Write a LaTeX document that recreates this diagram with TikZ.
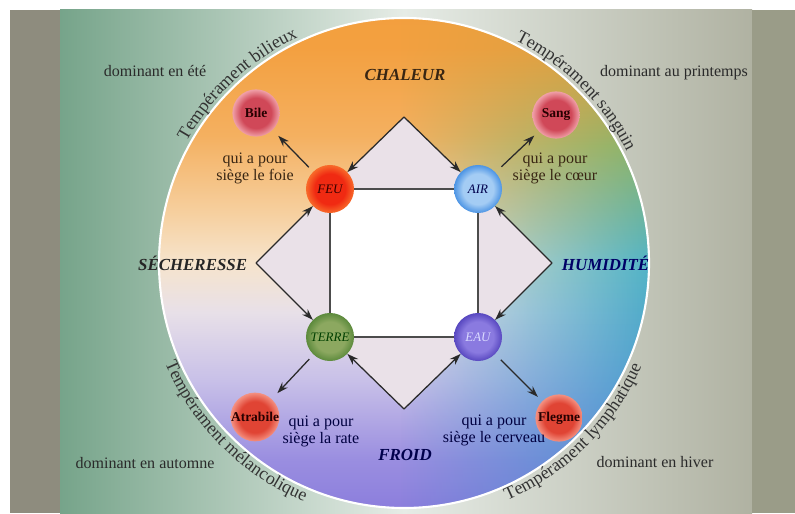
\documentclass[tikz,border=0pt]{standalone}
\usepackage{fontspec}
\setmainfont{Liberation Serif}
\usetikzlibrary{arrows.meta,decorations.text,fadings}

\definecolor{fondbord}{HTML}{8E8C7E}
\definecolor{fondvert}{HTML}{76A48A}
\definecolor{fondclair}{HTML}{E6ECE6}
\definecolor{fondgris}{HTML}{B0B2A2}
\definecolor{fondbord2}{HTML}{9A9C88}
\definecolor{losange}{HTML}{EAE1E8}
\definecolor{encre}{HTML}{2A2A2A}
% disque
\definecolor{d0}{HTML}{6B5BD2}
\definecolor{d1}{HTML}{7868D8}
\definecolor{d2}{HTML}{9A8EE0}
\definecolor{d3}{HTML}{C8C0E8}
\definecolor{d4}{HTML}{E8E0E8}
\definecolor{d5}{HTML}{F6E4CC}
\definecolor{d6}{HTML}{F6D0A0}
\definecolor{d7}{HTML}{F4B060}
\definecolor{d8}{HTML}{F3A040}
\definecolor{d9}{HTML}{F29A30}
\definecolor{r0}{HTML}{5E58D2}
\definecolor{r1}{HTML}{4E7CD2}
\definecolor{r2}{HTML}{4A9AD0}
\definecolor{r3}{HTML}{52B4C6}
\definecolor{r4}{HTML}{86B46A}
\definecolor{r5}{HTML}{D8A040}
% boules
\definecolor{feuc}{HTML}{F02A12}
\definecolor{feub}{HTML}{F86A2A}
\definecolor{airc}{HTML}{A4CCF4}
\definecolor{airb}{HTML}{4C94E4}
\definecolor{terrec}{HTML}{8CA860}
\definecolor{terreb}{HTML}{5C8A3C}
\definecolor{eauc}{HTML}{8A7AE0}
\definecolor{eaub}{HTML}{5848C0}
\definecolor{rosec}{HTML}{D04858}
\definecolor{roseb}{HTML}{F0A0A8}
\definecolor{rougec}{HTML}{E04434}
\definecolor{rougeb}{HTML}{F49080}

\tikzfading[name=fadeinright, left color=transparent!100, right color=transparent!0]

\pgfdeclareverticalshading{disque}{100bp}{color(0bp)=(d0); color(18bp)=(d1); color(30bp)=(d2);
  color(38bp)=(d3); color(45bp)=(d4); color(50bp)=(d5); color(55bp)=(d6); color(63bp)=(d7);
  color(72bp)=(d8); color(100bp)=(d9)}
\pgfdeclareverticalshading{cotedroit}{100bp}{color(0bp)=(r0); color(18bp)=(r1); color(36bp)=(r2);
  color(50bp)=(r3); color(62bp)=(r4); color(72bp)=(r5); color(100bp)=(d9)}
\pgfdeclareradialshading[boulecentre,boulebord]{boule}{\pgfpoint{0bp}{0bp}}{color(0bp)=(boulecentre);
  color(16bp)=(boulecentre); color(25bp)=(boulebord); color(50bp)=(boulebord)}

\tikzset{
  boule/.style 2 args={shading=boule, /utils/exec={\colorlet{boulecentre}{#1}\colorlet{boulebord}{#2}}},
  element/.style={circle, minimum size=1.2cm, inner sep=0pt, font=\fontsize{9.2}{10}\selectfont\itshape},
  humeur/.style={circle, minimum size=1.18cm, inner sep=0pt,
    font=\fontsize{9.6}{10}\selectfont\bfseries, text=black!85!red},
  qualite/.style={font=\fontsize{12}{14}\selectfont\bfseries\itshape},
  siege/.style={align=center, font=\fontsize{11.4}{12}\selectfont},
  saison/.style={font=\fontsize{11.4}{12}\selectfont, text=encre},
  fleche/.style={->, draw=encre, line width=0.9pt},
  cote/.style={draw=black!70, line width=0.8pt},
}
\newcommand\arcfont{\color{black!80}\fontsize{12.8}{14}\selectfont}

\begin{document}
\begin{tikzpicture}[x=0.025cm, y=0.025cm, >={Stealth[length=8pt,width=5.5pt]}]
  \useasboundingbox (0,0) rectangle (795,513);
  % fond
  \fill[white] (0,0) rectangle (795,513);
  \fill[fondbord] (10,0) rectangle (60,503);
  \shade[left color=fondvert, right color=fondclair] (60,0) rectangle (404,503);
  \shade[left color=fondclair, right color=fondgris] (404,0) rectangle (752,503);
  \fill[fondbord2] (752,0) rectangle (795,503);

  % disque
  \coordinate (centre) at (404,250);
  \shade[shading=disque] (centre) circle (245);
  \begin{scope}
    \clip (centre) circle (245);
    \shade[shading=cotedroit, path fading=fadeinright] (400,5) rectangle (650,495);
  \end{scope}
  \draw[white, line width=1.5pt] (centre) circle (245);

  % temperaments
  \path[decorate, decoration={text along path, text align=center,
    text={|\arcfont|Tempérament bilieux}}] (centre) ++(168:249) arc[start angle=168, end angle=98, radius=249];
  \path[decorate, decoration={text along path, text align=center,
    text={|\arcfont|Tempérament sanguin}}] (centre) ++(80:249) arc[start angle=80, end angle=10, radius=249];
  \path[decorate, decoration={text along path, text align=center,
    text={|\arcfont|Tempérament mélancolique}}] (centre) ++(185:259) arc[start angle=185, end angle=265, radius=259];
  \path[decorate, decoration={text along path, text align=center,
    text={|\arcfont|Tempérament lymphatique}}] (centre) ++(275:259) arc[start angle=275, end angle=355, radius=259];

  % losange et carre
  \coordinate (haut) at (404,396);
  \coordinate (droite) at (552,250);
  \coordinate (bas) at (404,104);
  \coordinate (gauche) at (256,250);
  \fill[losange] (haut) -- (droite) -- (bas) -- (gauche) -- cycle;
  \fill[white] (330,176) rectangle (478,324);

  % elements
  \node[element, boule={feuc}{feub}, text=black!80!red] (feu) at (330,324) {FEU};
  \node[element, boule={airc}{airb}, text=blue!30!black] (air) at (478,324) {AIR};
  \node[element, boule={terrec}{terreb}, text=black!75!green] (terre) at (330,176) {TERRE};
  \node[element, boule={eauc}{eaub}, text=white!85!blue] (eau) at (478,176) {EAU};

  \draw[cote] (feu) -- (air) -- (eau) -- (terre) -- (feu);

  \draw[fleche] (haut) -- (feu);
  \draw[fleche] (haut) -- (air);
  \draw[fleche] (gauche) -- (feu);
  \draw[fleche] (gauche) -- (terre);
  \draw[fleche] (droite) -- (air);
  \draw[fleche] (droite) -- (eau);
  \draw[fleche] (bas) -- (terre);
  \draw[fleche] (bas) -- (eau);

  % qualites
  \node[qualite, text=black!70!brown] (chaleur) at (405,438) {CHALEUR};
  \node[qualite, text=black!85, anchor=east] (secheresse) at (252,250) {SÉCHERESSE};
  \node[qualite, text=blue!40!black, anchor=west] (humidite) at (557,250) {HUMIDITÉ};
  \node[qualite, text=blue!30!black] (froid) at (405,58) {FROID};

  % humeurs
  \node[humeur, boule={rosec}{roseb}] (bile) at (256,400) {Bile};
  \node[humeur, boule={rosec}{roseb}] (sang) at (556,398) {Sang};
  \node[humeur, boule={rougec}{rougeb}] (atrabile) at (255,96) {Atrabile};
  \node[humeur, boule={rougec}{rougeb}] (flegme) at (559,95) {Flegme};

  \draw[fleche, shorten <=0.15cm, shorten >=0.2cm] (feu) -- (bile);
  \draw[fleche, shorten <=0.2cm, shorten >=0.15cm] (air) -- (sang);
  \draw[fleche, shorten <=0.15cm, shorten >=0.2cm] (terre) -- (atrabile);
  \draw[fleche, shorten <=0.2cm, shorten >=0.15cm] (eau) -- (flegme);

  \node[siege, text=black!70!brown] (foie) at (255,345) {qui a pour\\siège le foie};
  \node[siege, text=black!70!brown] (coeur) at (555,345) {qui a pour\\siège le cœur};
  \node[siege, text=blue!25!black] (rate) at (321,82) {qui a pour\\siège la rate};
  \node[siege, text=blue!25!black] (cerveau) at (494,83) {qui a pour\\siège le cerveau};

  % saisons
  \node[saison] (ete) at (155,442) {dominant en été};
  \node[saison] (printemps) at (674,440) {dominant au printemps};
  \node[saison] (automne) at (145,50) {dominant en automne};
  \node[saison] (hiver) at (655,51) {dominant en hiver};
\end{tikzpicture}
\end{document}
